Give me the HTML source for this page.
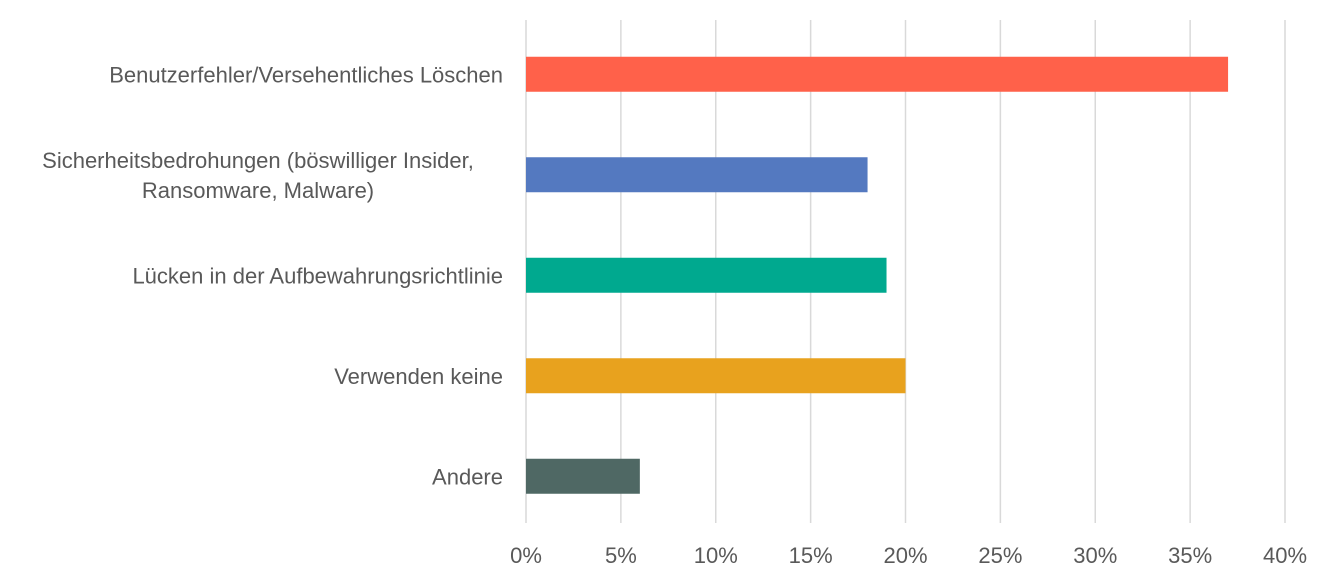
<!DOCTYPE html>
<html>
<head>
<meta charset="utf-8">
<style>
html,body{margin:0;padding:0;background:#fff;}
svg{display:block;}
text{font-family:"Liberation Sans",Arial,sans-serif;fill:#595959;font-size:22px;}
</style>
</head>
<body>
<svg id="chart" width="1333" height="583" xmlns="http://www.w3.org/2000/svg"></svg>
<script>
const categories = [
  ["Benutzerfehler/Versehentliches Löschen"],
  ["Sicherheitsbedrohungen (böswilliger Insider,", "Ransomware, Malware)"],
  ["Lücken in der Aufbewahrungsrichtlinie"],
  ["Verwenden keine"],
  ["Andere"]
];
const values = [37, 18, 19, 20, 6];
const barColors = ["#FF614A", "#5479C0", "#00A98F", "#E8A21E", "#4F6864"];
const tickValues = [0, 5, 10, 15, 20, 25, 30, 35, 40];
const tickLabels = ["0%", "5%", "10%", "15%", "20%", "25%", "30%", "35%", "40%"];

const svg = document.getElementById('chart');
const NS = "http://www.w3.org/2000/svg";
const x0 = 526, x1 = 1285, xMax = 40;
const plotTop = 20, plotBottom = 523;
const bandTop = 24, band = 100.5, barH = 35;
function xScale(v){ return x0 + (v / xMax) * (x1 - x0); }
function yCenter(i){ return bandTop + band * i + band / 2; }

tickValues.forEach((t, i) => {
  const l = document.createElementNS(NS, 'line');
  
  
  l.setAttribute('x1', xScale(t)); l.setAttribute('x2', xScale(t));
  l.setAttribute('y1', plotTop); l.setAttribute('y2', plotBottom);
  l.setAttribute('stroke', '#D9D9D9'); l.setAttribute('stroke-width', '1.5');
  svg.appendChild(l);
  const tx = document.createElementNS(NS, 'text');
  
  
  tx.setAttribute('x', xScale(t)); tx.setAttribute('y', 563);
  tx.setAttribute('text-anchor', 'middle');
  tx.textContent = tickLabels[i];
  svg.appendChild(tx);
});

values.forEach((v, i) => {
  const r = document.createElementNS(NS, 'rect');
  
  
  r.setAttribute('x', xScale(0)); r.setAttribute('width', xScale(v) - xScale(0));
  r.setAttribute('y', yCenter(i) - barH / 2); r.setAttribute('height', barH);
  r.setAttribute('fill', barColors[i]);
  svg.appendChild(r);
  const lines = categories[i];
  lines.forEach((s, j) => {
    const tx = document.createElementNS(NS, 'text');
    
    
    const lh = 30;
    const y = yCenter(i) + 8 + (j - (lines.length - 1) / 2) * lh;
    tx.setAttribute('y', y);
    if (lines.length > 1) {
      tx.setAttribute('x', 258); tx.setAttribute('text-anchor', 'middle');
    } else {
      tx.setAttribute('x', 503); tx.setAttribute('text-anchor', 'end');
    }
    tx.textContent = s;
    svg.appendChild(tx);
  });
});
</script>
</body>
</html>
